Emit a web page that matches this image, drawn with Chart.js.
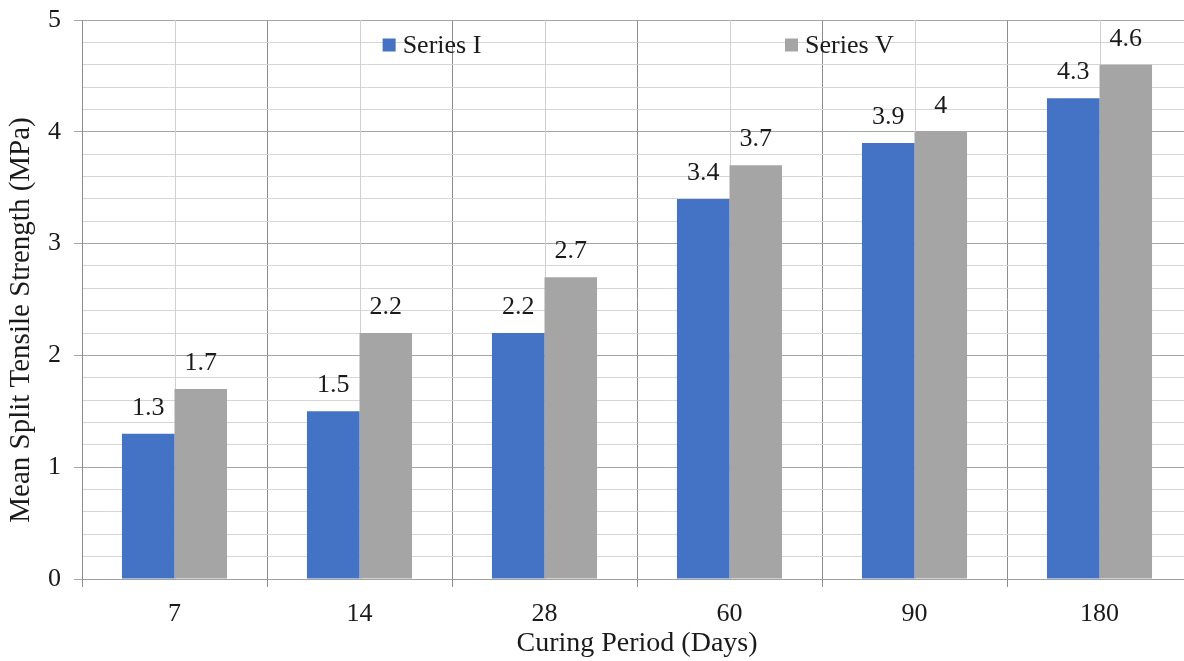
<!DOCTYPE html>
<html>
<head>
<meta charset="utf-8">
<title>Mean Split Tensile Strength</title>
<script src="https://cdn.jsdelivr.net/npm/chart.js@4.4.1/dist/chart.umd.min.js"></script>
<style>
    html, body { margin: 0; padding: 0; background: #fff; overflow: hidden; }
    #chartDiv { width: 1200px; height: 661px; }
</style>
</head>
<body>
<div id="chartDiv"><canvas id="myChart"></canvas></div>
<script>
// Curing period categories + the two series
const days = ["7", "14", "28", "60", "90", "180"];
const seriesI = [1.3, 1.5, 2.2, 3.4, 3.9, 4.3];
const seriesV = [1.7, 2.2, 2.7, 3.7, 4, 4.6];
const seriesNames = ["Series I", "Series V"];
const yTitle = "Mean Split Tensile Strength (MPa)";
const xTitle = "Curing Period (Days)";

const serif = '"Liberation Serif", "Times New Roman", serif';
const textColor = "#1a1a1a";

const isWhole = (v) => Math.abs(v - Math.round(v)) < 1e-6;

// thin lines through the middle of each category
const midLines = {
    id: "midLines",
    beforeDatasetsDraw(chart) {
        const { ctx, chartArea, scales } = chart;
        ctx.save();
        ctx.strokeStyle = "#d0d0d0";
        ctx.lineWidth = 1;
        days.forEach((d, i) => {
            const x = Math.round(scales.x.getPixelForValue(i)) + 0.5;
            ctx.beginPath();
            ctx.moveTo(x, chartArea.top);
            ctx.lineTo(x, chartArea.bottom);
            ctx.stroke();
        });
        ctx.restore();
    }
};

// value labels above bars
const barLabels = {
    id: "barLabels",
    afterDatasetsDraw(chart) {
        const { ctx } = chart;
        ctx.save();
        ctx.font = "26px " + serif;
        ctx.fillStyle = textColor;
        ctx.textAlign = "center";
        ctx.textBaseline = "alphabetic";
        chart.data.datasets.forEach((ds, di) => {
            chart.getDatasetMeta(di).data.forEach((bar, i) => {
                ctx.fillText(String(ds.data[i]), bar.x, bar.y - 19);
            });
        });
        ctx.restore();
    }
};

// legend sits inside the plot, items spread far apart
const innerLegend = {
    id: "innerLegend",
    afterDraw(chart) {
        const { ctx, scales } = chart;
        const spots = [1.125, 3.3]; // category positions for the two items
        ctx.save();
        ctx.font = "26px " + serif;
        ctx.textBaseline = "middle";
        ctx.textAlign = "left";
        chart.data.datasets.forEach((ds, di) => {
            const x = scales.x.getPixelForValue(spots[di]);
            const y = 45;
            ctx.fillStyle = ds.backgroundColor;
            ctx.fillRect(x, y - 6.5, 13, 13);
            ctx.fillStyle = textColor;
            ctx.fillText(ds.label, x + 20, y + 1);
        });
        ctx.restore();
    }
};

// y axis title, a bit below the middle like the original
const yTitlePlugin = {
    id: "yTitlePlugin",
    afterDraw(chart) {
        const { ctx } = chart;
        ctx.save();
        ctx.translate(21, 320);
        ctx.rotate(-Math.PI / 2);
        ctx.font = "29px " + serif;
        ctx.fillStyle = textColor;
        ctx.textAlign = "center";
        ctx.textBaseline = "middle";
        ctx.fillText(yTitle, 0, 0);
        ctx.restore();
    }
};

const chart = new Chart(document.getElementById("myChart"), {
    type: "bar",
    data: {
        labels: days,
        datasets: [
            { label: seriesNames[0], data: seriesI, backgroundColor: "#4472C4" },
            { label: seriesNames[1], data: seriesV, backgroundColor: "#A5A5A5" }
        ]
    },
    options: {
        responsive: true,
        maintainAspectRatio: false,
        animation: false,
        layout: { padding: { top: 20, right: 8, left: 0, bottom: 0 } },
        datasets: { bar: { categoryPercentage: 0.568, barPercentage: 1 } },
        plugins: {
            legend: { display: false },
            tooltip: { enabled: false }
        },
        scales: {
            x: {
                afterFit(scale) { scale.height = 82; },
                grid: { offset: true, color: "#8c8c8c", tickColor: "#8c8c8c", tickLength: 8 },
                border: { color: "#a0a0a0" },
                ticks: { color: textColor, font: { family: serif, size: 26 }, padding: 12 },
                title: {
                    display: true,
                    text: xTitle,
                    color: textColor,
                    font: { family: serif, size: 28 },
                    padding: { top: 4, bottom: 1 }
                }
            },
            y: {
                min: 0,
                max: 5,
                afterFit(scale) {
                    scale.width = 82;
                    scale.paddingTop = 0;
                    scale.paddingBottom = 0;
                },
                ticks: {
                    stepSize: 0.2,
                    autoSkip: false,
                    color: textColor,
                    font: { family: serif, size: 26 },
                    padding: 13,
                    callback: (v) => isWhole(v) ? Math.round(v) : ""
                },
                grid: {
                    color: (c) => isWhole(c.tick.value) ? "#a6a6a6" : "#d6d6d6",
                    tickColor: (c) => isWhole(c.tick.value) ? "#a6a6a6" : "transparent",
                    tickLength: 8
                },
                border: { color: "#8c8c8c" }
            }
        }
    },
    plugins: [midLines, barLabels, innerLegend, yTitlePlugin]
});
</script>
</body>
</html>
